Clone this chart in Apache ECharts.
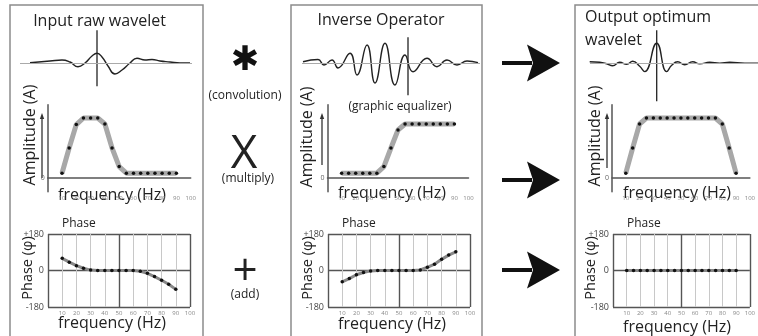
<!DOCTYPE html>
<html><head><meta charset="utf-8">
<script src="https://cdn.jsdelivr.net/npm/echarts@6/dist/echarts.min.js"></script>
<style>html,body{margin:0;padding:0;background:#fff}#c{width:758px;height:336px}</style>
</head><body><div id="c"></div>
<script>
// ---------- DATA ----------
const freqs = [10,15,20,25,30,35,40,45,50,55,60,65,70,75,80,85,90];
const ampInput   = [0.08,0.5,0.89,1,1,1,0.9,0.5,0.19,0.08,0.08,0.08,0.08,0.08,0.08,0.08,0.08];
const ampInverse = [0.08,0.08,0.08,0.08,0.08,0.08,0.19,0.5,0.8,0.9,0.9,0.9,0.9,0.9,0.9,0.9,0.9];
const ampOutput  = [0.08,0.5,0.9,1,1,1,1,1,1,1,1,1,1,1,0.9,0.5,0.08];
const phaseInput   = [60,41,24,11,2,0,0,0,0,0,0,-4,-14,-30,-48,-68,-93];
const phaseInverse = [-56,-40,-21,-10,-2,0,0,0,0,0,0,3,16,31,55,76,92];
const phaseOutput  = [0,0,0,0,0,0,0,0,0,0,0,0,0,0,0,0,0];
const phaseTickValues = [-180,0,180];
const phaseTickLabels = ['-180','0','+180'];
// wavelets: [time, amplitude]
const waveInput = [[-67,0.6],[-47,2.3],[-35,3.3],[-27,1.3],[-19,-3.4],[-12,0.3],[-5,7.3],[0,10],[5,6.3],[11,-2.7],[18,-10.7],[25,-6.7],[33,0.3],[40,5],[48,3.3],[55,3.8],[63,2.3],[73,1.3],[83,0.3],[93,0.3]];
const waveInverse = [[-105,1.6],[-90,3.8],[-84,-1.7],[-76,3.3],[-70,-4.7],[-58,10],[-51,-11.7],[-41,18.3],[-33,-19.7],[-23,20],[-13,-21.7],[-3,8.3],[5,-8.4],[19,5],[29,-3.4],[39,3.3],[49,-1.7],[59,2.3],[70,0.6]];
const waveOutput = [[-67,1.5],[-57,1],[-50,-0.5],[-44,-2.5],[-37,1],[-30,-1],[-24,2],[-17,-3],[-12,-8.3],[0,20],[10,-8.3],[15,-2],[21,1.5],[28,-1.5],[36,1.5],[43,-0.5],[53,1],[63,0],[73,1],[88,0],[103,0]];
const markInput = [33,-23], markInverse = [26,-32], markOutput = [33,-38];
const titles = ['Input raw wavelet','Inverse Operator','Output optimum','wavelet'];

// ---------- LAYOUT ----------
const FONT = '"Open Sans", "Noto Sans", sans-serif';
const L = [
  {wave:{left:20,width:172,tmin:-77,tmax:95}, amp:{left:47.7,width:143}, ph:{left:48,width:142}},
  {wave:{left:302,width:178,tmin:-106,tmax:72}, amp:{left:327.5,width:141}, ph:{left:328,width:142}},
  {wave:{left:590,width:168,tmin:-66.7,tmax:101.3}, amp:{left:612,width:142}, ph:{left:613,width:140}}
];
const waves = [waveInput, waveInverse, waveOutput];
const marks = [markInput, markInverse, markOutput];
const amps = [ampInput, ampInverse, ampOutput];
const phases = [phaseInput, phaseInverse, phaseOutput];

const grid = [], xAxis = [], yAxis = [], series = [];
L.forEach((p, i) => {
  grid.push({left:p.wave.left, width:p.wave.width, top:23.3, height:80});
  grid.push({left:p.amp.left, width:p.amp.width, top:104.8, height:87});
  grid.push({left:p.ph.left, width:p.ph.width, top:234, height:73});
  const g = 3*i, xa = 4*i;
  xAxis.push({gridIndex:g, type:'value', min:p.wave.tmin, max:p.wave.tmax, show:false});
  xAxis.push({gridIndex:g+1, type:'value', min:0, max:100, interval:10,
    axisLine:{onZero:true, lineStyle:{color:'#555', width:1.5}},
    axisTick:{show:false}, splitLine:{show:false},
    axisLabel:{fontSize:6, color:'#888', margin:3, fontFamily:FONT, formatter:v=> v===0?'':String(v)}});
  xAxis.push({gridIndex:g+2, type:'value', min:0, max:100, interval:10, position:'bottom',
    axisLine:{show:false}, axisTick:{show:false},
    splitLine:{show:true, lineStyle:{color:'#c8c8c8', width:1}},
    axisLabel:{fontSize:6, color:'#888', margin:3, fontFamily:FONT, formatter:v=> v===0?'':String(v)}});
  xAxis.push({gridIndex:g+2, type:'value', min:0, max:100, interval:50, position:'top',
    axisLine:{show:false}, axisTick:{show:false}, axisLabel:{show:false},
    splitLine:{show:true, lineStyle:{color:'#555', width:1.4}}});
  yAxis.push({gridIndex:g, type:'value', min:-40, max:40, show:false});
  yAxis.push({gridIndex:g+1, type:'value', min:-0.23, max:1.22,
    axisLine:{show:true, lineStyle:{color:'#555', width:1.5}},
    axisTick:{show:false}, splitLine:{show:false},
    axisLabel:{customValues:[0], fontSize:7, color:'#666', margin:3, fontFamily:FONT}});
  yAxis.push({gridIndex:g+2, type:'value', min:-180, max:180, interval:180,
    axisLine:{show:false}, axisTick:{show:false},
    splitLine:{show:true, lineStyle:{color:'#555', width:1.4}},
    axisLabel:{fontSize:9, color:'#444', margin:4, fontFamily:FONT,
      formatter:v=> phaseTickLabels[phaseTickValues.indexOf(v)]}});
  series.push({type:'line', xAxisIndex:xa, yAxisIndex:g, data:waves[i], smooth:0.5, symbol:'none',
    lineStyle:{color:'#222', width:1.4}, silent:true,
    markLine:{silent:true, symbol:'none', label:{show:false}, lineStyle:{color:'#aaa', width:1, type:'solid'},
      data:[{yAxis:0}]}});
  series.push({type:'line', xAxisIndex:xa, yAxisIndex:g, data:[[0,marks[i][0]],[0,marks[i][1]]], symbol:'none',
    lineStyle:{color:'#222', width:1.3}, silent:true});
  series.push({type:'line', xAxisIndex:xa+1, yAxisIndex:g+1, data:freqs.map((f,k)=>[f,amps[i][k]]),
    symbol:'circle', symbolSize:3.5, itemStyle:{color:'#111'}, lineStyle:{color:'#a8a8a8', width:5}, silent:true});
  series.push({type:'line', xAxisIndex:xa+2, yAxisIndex:g+2, data:freqs.map((f,k)=>[f,phases[i][k]]),
    symbol:'circle', symbolSize:3.5, itemStyle:{color:'#111'}, lineStyle:{color:'#888', width:3}, silent:true});
});

// ---------- DECORATION ----------
const graphic = [];
const txt = (text, x, y, size, opt={}) => graphic.push(Object.assign({type:'text', x, y, silent:true,
  style:{text, font:`${size}px ${FONT}`, fill:'#222', align:opt.align||'center', verticalAlign:'middle'}}, opt.rot?{rotation:opt.rot}:{}));
[[10,193],[291,191],[575,200]].forEach(([x,w]) => graphic.push({type:'rect', silent:true,
  shape:{x, y:5, width:w, height:345}, style:{fill:'none', stroke:'#8c8c8c', lineWidth:1.5}}));
txt(titles[0], 99.5, 21, 16);
txt(titles[1], 381, 20, 16);
txt(titles[2], 585, 17, 16, {align:'left'});
txt(titles[3], 585, 40, 16, {align:'left'});
txt('(graphic equalizer)', 400, 107, 12);
[[30,135],[307,137],[595,136]].forEach(([x,y]) => txt('Amplitude (A)', x, y, 16, {rot:Math.PI/2}));
[[28,268],[308,268],[591,268]].forEach(([x,y]) => txt('Phase (φ)', x, y, 14.5, {rot:Math.PI/2}));
[[62,224],[342,224],[627,224]].forEach(([x,y]) => txt('Phase', x, y, 12, {align:'left'}));
[[112,195],[392,193],[677,193],[112,323],[392,324],[677,327]].forEach(([x,y]) => txt('frequency (Hz)', x, y, 16));
// amplitude arrows
[[42,178],[322,165],[607,168]].forEach(([x,yb]) => {
  graphic.push({type:'line', silent:true, shape:{x1:x, y1:117, x2:x, y2:yb}, style:{stroke:'#333', lineWidth:1.3}});
  graphic.push({type:'polygon', silent:true, shape:{points:[[x,113],[x-2.2,119],[x+2.2,119]]}, style:{fill:'#333'}});
});
// operators
graphic.push({type:'text', x:245, y:61, silent:true, style:{text:'✱', font:'34px "DejaVu Sans"', fill:'#111', align:'center', verticalAlign:'middle'}});
txt('(convolution)', 245, 96, 12);
txt('X', 244, 155, 46);
txt('(multiply)', 248, 179, 12);
txt('+', 245, 272, 44);
txt('(add)', 245, 295, 12);
// big arrows
[63,180,270].forEach(cy => {
  graphic.push({type:'rect', silent:true, shape:{x:502, y:cy-2, width:30, height:4}, style:{fill:'#111'}});
  graphic.push({type:'polygon', silent:true, shape:{points:[[560,cy],[527,cy-18.5],[533,cy],[527,cy+18.5]]}, style:{fill:'#111'}});
});

const chart = echarts.init(document.getElementById('c'), null, {renderer:'canvas'});
chart.setOption({animation:false, backgroundColor:'#fff', grid, xAxis, yAxis, series, graphic,
  textStyle:{fontFamily:FONT}});
</script></body></html>
